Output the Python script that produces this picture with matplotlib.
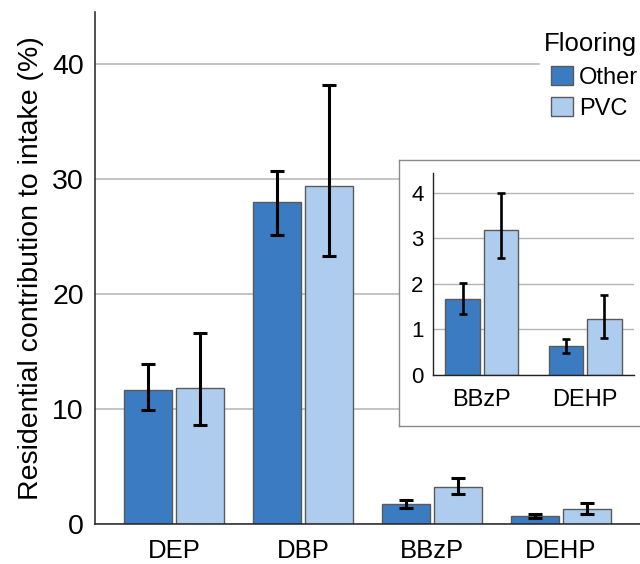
import matplotlib
matplotlib.use("Agg")
import matplotlib.pyplot as plt
import numpy as np
from matplotlib.patches import Patch

plt.rcParams['font.family'] = ['Liberation Sans', 'DejaVu Sans']

compounds = ['DEP', 'DBP', 'BBzP', 'DEHP']
other_mean = [11.6, 28.0, 1.67, 0.63]
other_low = [9.85, 25.1, 1.34, 0.48]
other_high = [13.85, 30.7, 2.02, 0.80]
pvc_mean = [11.8, 29.4, 3.19, 1.22]
pvc_low = [8.6, 23.3, 2.57, 0.82]
pvc_high = [16.55, 38.2, 4.0, 1.76]

inset_compounds = ['BBzP', 'DEHP']
main_yticks = [0, 10, 20, 30, 40]
inset_yticks = [0, 1, 2, 3, 4]

c_other = '#3b7bc2'
c_pvc = '#aecdee'
edge = '#5a5a5a'
grid_c = '#b4b4b4'

W, H = 640, 564
fig = plt.figure(figsize=(6.4, 5.64), dpi=100)

def fx(px):
    return px / W

def fy(py):
    return 1 - py / H

# Main axes
ax = fig.add_axes([fx(95), fy(523.5), 1 - fx(95), (523.5 - 12) / H])
x = np.arange(len(compounds))
bw = 0.37
off = 0.2
om = np.array(other_mean); pm = np.array(pvc_mean)
oerr = np.vstack([om - np.array(other_low), np.array(other_high) - om])
perr = np.vstack([pm - np.array(pvc_low), np.array(pvc_high) - pm])
ax.bar(x - off, om, bw, color=c_other, edgecolor=edge, linewidth=1.0, zorder=2, label='Other')
ax.bar(x + off, pm, bw, color=c_pvc, edgecolor=edge, linewidth=1.0, zorder=2, label='PVC')
ekw = dict(fmt='none', ecolor='black', elinewidth=2.2, capsize=4.8, capthick=2.2, zorder=3)
ax.errorbar(x - off, om, yerr=oerr, **ekw)
ax.errorbar(x + off, pm, yerr=perr, **ekw)
ax.set_xlim(-0.612, 3.612)
ax.set_ylim(0, 44.52)
ax.set_yticks(main_yticks)
ax.set_xticks(x)
ax.set_xticklabels(compounds)
ax.tick_params(axis='y', length=0, pad=8, labelsize=20.5)
ax.tick_params(axis='x', length=0, pad=11, labelsize=18.5)
ax.yaxis.grid(True, color=grid_c, linewidth=1.1, zorder=0)
ax.set_axisbelow(True)
for s in ['top', 'right']:
    ax.spines[s].set_visible(False)
for s in ['left', 'bottom']:
    ax.spines[s].set_color('#222222')
    ax.spines[s].set_linewidth(1.1)
ax.set_ylabel('Residential contribution to intake (%)', fontsize=20.5, labelpad=6)

# Legend
handles = [Patch(facecolor=c_other, edgecolor=edge, linewidth=1.0, label='Other'),
           Patch(facecolor=c_pvc, edgecolor=edge, linewidth=1.0, label='PVC')]
leg = fig.legend(handles=handles, title='Flooring', loc='upper left',
                 bbox_to_anchor=(fx(540), fy(28)), fontsize=17, title_fontsize=18.5,
                 frameon=True, facecolor='white', edgecolor='none', framealpha=1,
                 handlelength=0.92, handleheight=0.88, handletextpad=0.26,
                 labelspacing=0.36, borderpad=0.15, borderaxespad=0, fancybox=False,
                 alignment='left')
leg._legend_box.sep = 0.1 * 19
leg._legend_handle_box.pad = 5.5
leg.set_zorder(10)

# Inset frame
frame = fig.add_axes([fx(399), fy(426), fx(660 - 399), (426 - 160) / H])
frame.set_xticks([]); frame.set_yticks([])
frame.set_facecolor('white')
for s in frame.spines.values():
    s.set_color('#8a8a8a')
    s.set_linewidth(1.0)
frame.set_zorder(5)

# Inset axes
iax = fig.add_axes([fx(433.3), fy(375), fx(634 - 433.3), (375 - 172.7) / H])
iax.set_zorder(6)
iax.patch.set_alpha(0)
xi = np.arange(len(inset_compounds))
ibw = 0.335
ioff = 0.185
io = om[2:]; ip = pm[2:]
ioerr = oerr[:, 2:]; iperr = perr[:, 2:]
iax.bar(xi - ioff, io, ibw, color=c_other, edgecolor=edge, linewidth=1.0, zorder=2)
iax.bar(xi + ioff, ip, ibw, color=c_pvc, edgecolor=edge, linewidth=1.0, zorder=2)
iekw = dict(fmt='none', ecolor='black', elinewidth=1.9, capsize=3.2, capthick=1.9, zorder=3)
iax.errorbar(xi - ioff, io, yerr=ioerr, **iekw)
iax.errorbar(xi + ioff, ip, yerr=iperr, **iekw)
iax.set_xlim(-0.467, 1.47)
iax.set_ylim(0, 4.44)
iax.set_yticks(inset_yticks)
iax.set_xticks(xi)
iax.set_xticklabels(inset_compounds)
iax.tick_params(axis='y', length=0, pad=7, labelsize=16)
iax.tick_params(axis='x', length=0, pad=10, labelsize=17)
iax.yaxis.grid(True, color=grid_c, linewidth=1.0, zorder=0)
iax.set_axisbelow(True)
for s in ['top', 'right']:
    iax.spines[s].set_visible(False)
for s in ['left', 'bottom']:
    iax.spines[s].set_color('#222222')
    iax.spines[s].set_linewidth(1.0)

fig.savefig('out.png', dpi=100)
